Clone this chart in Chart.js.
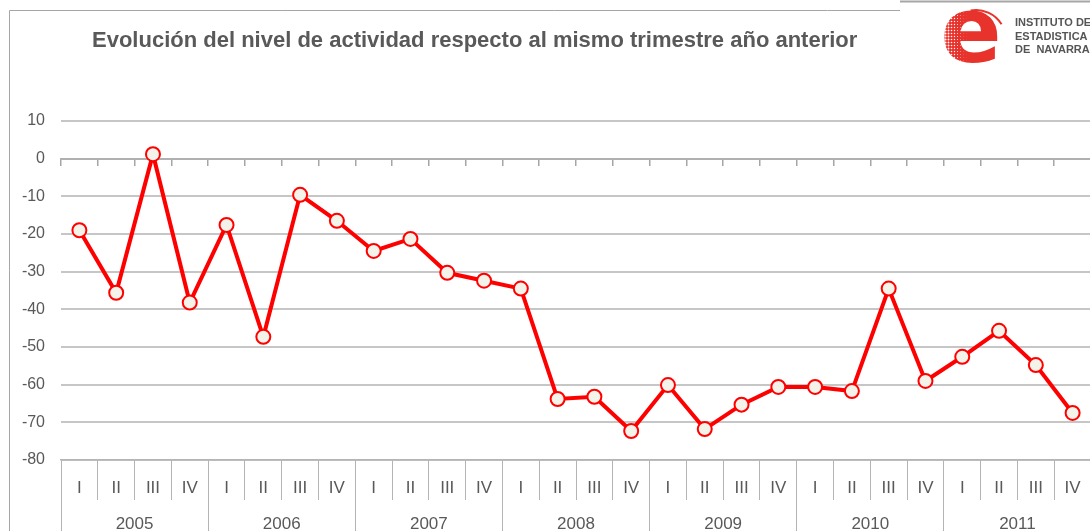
<!DOCTYPE html>
<html><head><meta charset="utf-8">
<script src="https://cdn.jsdelivr.net/npm/chart.js@4/dist/chart.umd.min.js"></script>
<style>
html,body{margin:0;padding:0;background:#fff;overflow:hidden;}
#wrap{position:relative;width:1090px;height:531px;overflow:hidden;background:#fff;}
#c{position:absolute;left:0;top:0;}
</style></head><body>
<div id="wrap"><canvas id="c" width="1100" height="531"></canvas></div>
<script>
const chartTitle = "Evolución del nivel de actividad respecto al mismo trimestre año anterior";
const years = ["2005","2006","2007","2008","2009","2010","2011"];
const quarters = ["I","II","III","IV"];
const values = [-19.0,-35.6,1.2,-38.2, -17.6,-47.3,-9.6,-16.5, -24.5,-21.3,-30.3,-32.4, -34.5,-63.8,-63.2,-72.3,
                -60.1,-71.8,-65.3,-60.6, -60.6,-61.7,-34.5,-59.0, -52.6,-45.7,-54.8,-67.5];
const yMin = -80, yMax = 10, yStep = 10;
const logoLines = ["INSTITUTO DE","ESTADISTICA","DE  NAVARRA"];

const catLabels = [];
years.forEach(() => quarters.forEach(q => catLabels.push(q)));

const FONT = '"Liberation Sans", Arial, sans-serif';
const TXT = '#595959';

const decor = {
  id: 'decor',
  beforeDraw(chart) {
    const ctx = chart.ctx;
    ctx.save();
    ctx.fillStyle = '#fff';
    ctx.fillRect(0, 0, chart.width, chart.height);
    ctx.strokeStyle = '#a6a6a6';
    ctx.lineWidth = 1;
    ctx.beginPath();
    ctx.moveTo(9.5, 531); ctx.lineTo(9.5, 10.5); ctx.lineTo(1100, 10.5);
    ctx.stroke();
    ctx.restore();
  },
  afterDraw(chart) {
    const ctx = chart.ctx;
    ctx.save();
    // title
    ctx.fillStyle = TXT;
    ctx.font = 'bold 22px ' + FONT;
    ctx.textBaseline = 'alphabetic';
    ctx.textAlign = 'left';
    ctx.fillText(chartTitle, 92, 47);
    // logo box
    ctx.fillStyle = '#fff';
    ctx.fillRect(900, 0, 200, 66);
    ctx.strokeStyle = '#a6a6a6';
    ctx.beginPath(); ctx.moveTo(900, 1.5); ctx.lineTo(1100, 1.5); ctx.stroke();
    // red e
    ctx.fillStyle = '#e8322c';
    ctx.font = 'bold 90px "DejaVu Sans", sans-serif';
    ctx.textAlign = 'center';
    ctx.textBaseline = 'alphabetic';
    ctx.fillText('e', 971, 62);
    ctx.fillStyle = '#fff';
    for (let x = 932; x < 968; x += 3) {
      for (let y = 8; y < 66; y += 3) {
        const r = Math.max(0, (968 - x) / 36 * 1.6);
        ctx.beginPath(); ctx.arc(x + 1.5, y + 1.5, r, 0, Math.PI * 2); ctx.fill();
      }
    }
    ctx.strokeStyle = '#e8322c';
    ctx.lineWidth = 2;
    ctx.beginPath(); ctx.arc(976, 40, 30, -1.75, -0.55); ctx.stroke();
    // logo text
    ctx.fillStyle = '#555';
    ctx.font = 'bold 11px ' + FONT;
    ctx.textAlign = 'left';
    logoLines.forEach((t, i) => ctx.fillText(t, 1015, 26 + i * 13.5));
    ctx.restore();
  }
};

new Chart(document.getElementById('c'), {
  type: 'line',
  data: {
    labels: catLabels,
    datasets: [{
      data: values,
      xAxisID: 'x', yAxisID: 'y',
      borderColor: '#ff0000',
      borderWidth: 4,
      tension: 0,
      pointRadius: 7,
      pointHoverRadius: 7,
      pointBackgroundColor: '#f3f3ea',
      pointBorderColor: '#ff0000',
      pointBorderWidth: 2,
      clip: false
    }]
  },
  options: {
    responsive: false,
    animation: false,
    devicePixelRatio: 1,
    layout: { padding: { top: 121, right: 3, left: 0, bottom: 0 } },
    plugins: { legend: { display: false }, tooltip: { enabled: false }, title: { display: false } },
    scales: {
      y: {
        min: yMin, max: yMax,
        ticks: { stepSize: yStep, color: TXT, font: { family: FONT, size: 16 }, padding: 16 },
        grid: { color: '#c6c6c6', lineWidth: 2, drawTicks: false },
        border: { display: false },
        afterFit(s) { s.width = 61; }
      },
      x: {
        type: 'category', position: 'bottom', offset: true, labels: catLabels, weight: 0,
        grid: { offset: true, drawOnChartArea: false, drawTicks: true, tickLength: 40, color: '#b4b4b4', lineWidth: 1 },
        border: { display: true, color: '#b4b4b4', width: 1.5 },
        ticks: { color: TXT, font: { family: FONT, size: 17 }, padding: -22, maxRotation: 0, autoSkip: false },
        afterFit(s) { s.height = 40; }
      },
      x2: {
        type: 'category', position: 'bottom', offset: true, labels: years, weight: 1,
        grid: { offset: true, drawOnChartArea: false, drawTicks: true, tickLength: 31, color: '#b4b4b4', lineWidth: 1 },
        border: { display: false },
        ticks: { color: TXT, font: { family: FONT, size: 17 }, padding: -17, maxRotation: 0, autoSkip: false },
        afterFit(s) { s.height = 31; }
      },
      x0: {
        type: 'category', position: { y: 0 }, offset: true, labels: catLabels,
        grid: { offset: true, drawOnChartArea: false, drawTicks: true, tickLength: 6, color: '#a6a6a6', lineWidth: 1.5 },
        border: { display: true, color: '#b0b0b0', width: 2 },
        ticks: { display: false }
      }
    }
  },
  plugins: [decor]
});
</script>
</body></html>
